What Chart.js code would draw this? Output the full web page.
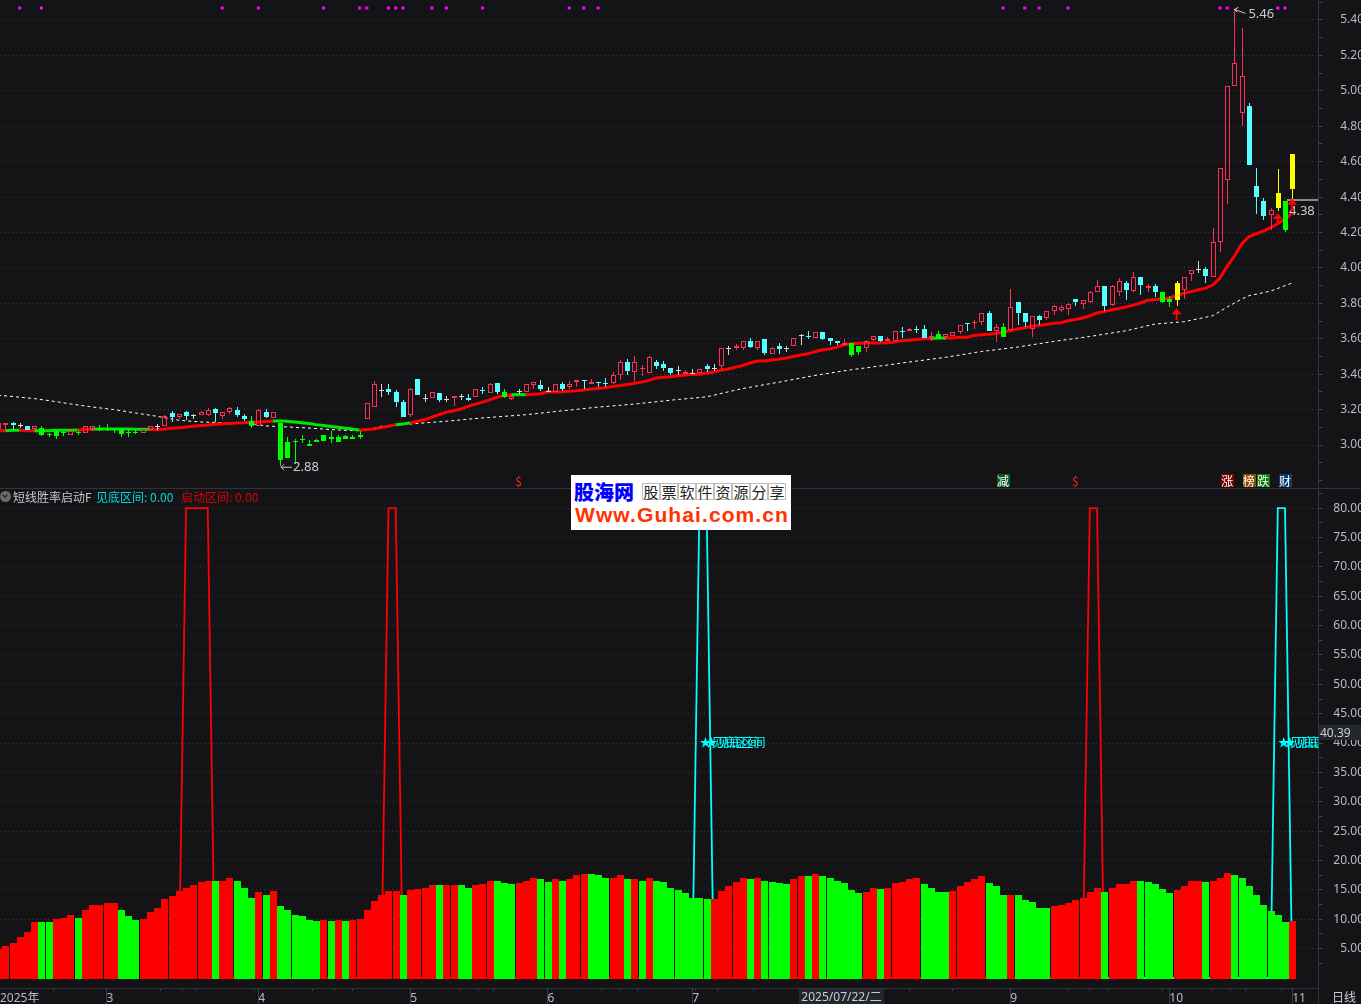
<!DOCTYPE html>
<html>
<head>
<meta charset="utf-8">
<script src="https://cdn.jsdelivr.net/npm/chart.js@4"></script>
<style>
  html, body { margin: 0; padding: 0; background: #141417; overflow: hidden; }
  body { width: 1361px; height: 1004px; position: relative; overflow: hidden; font-family: "Noto Sans CJK SC", "Noto Sans", sans-serif; }
  canvas { position: absolute; left: 0; }
  #priceChart { top: 0; }
  #rateChart { top: 489px; }
  .abs { position: absolute; white-space: nowrap; }
  .cell { position: absolute; top: 483px; width: 18px; height: 17px; line-height: 16px; box-sizing: border-box; border: 1px solid #bdbdbd; color: #222; font-size: 15px; text-align: center; }
</style>
</head>
<body>
<canvas id="priceChart" width="1364" height="488"></canvas>
<canvas id="rateChart" width="1364" height="515"></canvas>

<div class="abs" style="left:0;top:488px;width:1361px;height:1px;background:#2f333d"></div>
<div class="abs" style="left:1318px;top:988px;width:1px;height:16px;background:#2f333d"></div>

<div class="abs" style="left:0;top:491px;width:11px;height:11px;border-radius:50%;background:#6a6a6a"></div>
<div class="abs" style="left:3px;top:493px;width:3px;height:3px;border-right:1px solid #1a1a1a;border-bottom:1px solid #1a1a1a;transform:rotate(45deg)"></div>
<div class="abs" style="left:13px;top:489px;font-size:12px;line-height:16px;color:#c4c8cc">短线胜率启动F</div>
<div class="abs" style="left:96px;top:489px;font-size:12px;line-height:16px;color:#00dcdc">见底区间: 0.00</div>
<div class="abs" style="left:181px;top:489px;font-size:12px;line-height:16px;color:#e00000">启动区间: 0.00</div>

<div class="abs" style="left:1319px;top:725px;width:42px;height:15px;line-height:15px;background:#24272e;color:#c8ccd4;font-size:12px;padding-left:1px;box-sizing:border-box;font-family:'Noto Sans'">40.39</div>
<div class="abs" style="left:799px;top:989px;width:85px;height:15px;line-height:15px;background:#23262d;color:#c8ccd4;font-size:12px;text-align:center;font-family:'Noto Sans','Noto Sans CJK SC'">2025/07/22/二</div>
<div class="abs" style="left:1332px;top:990px;font-size:12px;line-height:14px;color:#c8ccd4">日线</div>

<div class="abs" style="left:571px;top:475px;width:220px;height:55px;background:#fff"></div>
<div class="abs" style="left:574px;top:479px;font-size:20px;line-height:26px;font-weight:900;color:#0000ff">股海网</div>
<div class="cell" style="left:642px">股</div>
<div class="cell" style="left:660px">票</div>
<div class="cell" style="left:678px">软</div>
<div class="cell" style="left:696px">件</div>
<div class="cell" style="left:714px">资</div>
<div class="cell" style="left:732px">源</div>
<div class="cell" style="left:750px">分</div>
<div class="cell" style="left:768px">享</div>
<div class="abs" style="left:575px;top:503px;font-family:'Liberation Sans';font-size:21px;line-height:24px;font-weight:700;color:#ff3300;letter-spacing:1.1px">Www.Guhai.com.cn</div>

<script>
// --- candles ---
const candleOpen = [
  3.09,3.115,3.124,3.112,3.108,3.093,3.096,3.061,3.078,3.074,
  3.055,3.072,3.068,3.087,3.096,3.09,3.089,3.091,3.076,3.076,
  3.068,3.087,3.11,3.108,3.179,3.157,3.187,3.168,3.172,3.172,
  3.202,3.162,3.185,3.2,3.162,3.136,3.106,3.189,3.153,3.123,
  3.017,3.02,3.034,3.008,3.03,3.057,3.043,3.047,3.049,3.047,
  3.057,3.147,3.213,3.311,3.317,3.302,3.241,3.172,3.37,3.266,
  3.264,3.296,3.262,3.265,3.275,3.267,3.272,3.312,3.293,3.35,
  3.299,3.262,3.306,3.302,3.338,3.338,3.306,3.302,3.346,3.325,
  3.353,3.367,3.342,3.357,3.348,3.351,3.393,3.468,3.414,3.429,
  3.404,3.47,3.459,3.434,3.423,3.402,3.404,3.404,3.448,3.433,
  3.444,3.549,3.545,3.545,3.587,3.545,3.6,3.513,3.559,3.547,
  3.557,3.619,3.615,3.602,3.638,3.606,3.587,3.564,3.576,3.56,
  3.545,3.594,3.615,3.585,3.585,3.643,3.643,3.655,3.656,3.598,
  3.628,3.61,3.613,3.64,3.689,3.687,3.692,3.747,3.643,3.666,
  3.651,3.809,3.747,3.655,3.73,3.715,3.754,3.764,3.768,3.824,
  3.794,3.805,3.864,3.899,3.792,3.862,3.915,3.869,3.948,3.884,
  3.899,3.864,3.826,3.916,3.875,3.965,3.992,3.995,3.947,4.148,
  4.498,5.027,4.875,4.912,4.46,4.379,4.3,4.421,4.379,4.641
];
const candleClose = [
  3.125,3.125,3.113,3.107,3.087,3.108,3.055,3.057,3.053,3.07,
  3.081,3.068,3.106,3.108,3.083,3.086,3.085,3.064,3.072,3.072,
  3.091,3.108,3.106,3.164,3.16,3.176,3.166,3.164,3.187,3.2,
  3.181,3.187,3.209,3.168,3.147,3.106,3.198,3.16,3.187,2.914,
  2.925,3.016,3.03,2.993,3.015,3.023,3.034,3.015,3.032,3.032,
  3.043,3.238,3.343,3.307,3.3,3.241,3.158,3.317,3.281,3.262,
  3.302,3.253,3.258,3.276,3.271,3.255,3.316,3.308,3.346,3.3,
  3.272,3.278,3.302,3.344,3.355,3.318,3.302,3.344,3.318,3.344,
  3.367,3.359,3.355,3.35,3.344,3.395,3.468,3.419,3.468,3.434,
  3.496,3.447,3.434,3.406,3.419,3.415,3.402,3.427,3.429,3.429,
  3.547,3.545,3.559,3.587,3.551,3.587,3.519,3.547,3.542,3.543,
  3.604,3.615,3.611,3.638,3.6,3.589,3.577,3.576,3.51,3.523,
  3.585,3.613,3.587,3.598,3.643,3.639,3.656,3.651,3.604,3.613,
  3.598,3.626,3.638,3.677,3.683,3.696,3.745,3.645,3.666,3.611,
  3.779,3.747,3.696,3.728,3.707,3.756,3.785,3.779,3.794,3.809,
  3.817,3.864,3.896,3.786,3.898,3.924,3.877,3.948,3.901,3.899,
  3.866,3.805,3.805,3.817,3.95,3.988,3.988,3.952,4.148,4.566,
  5.029,5.159,5.085,4.581,4.4,4.293,4.327,4.338,4.214,4.443
];
const candleHigh = [
  3.125,3.125,3.13,3.125,3.11,3.108,3.108,3.068,3.083,3.078,
  3.087,3.085,3.106,3.11,3.115,3.119,3.089,3.094,3.091,3.087,
  3.091,3.11,3.119,3.17,3.19,3.176,3.19,3.176,3.194,3.208,
  3.211,3.187,3.215,3.215,3.177,3.166,3.204,3.202,3.187,3.123,
  3.045,3.032,3.055,3.03,3.034,3.059,3.081,3.057,3.057,3.057,
  3.079,3.24,3.364,3.347,3.347,3.311,3.256,3.324,3.37,3.289,
  3.302,3.296,3.277,3.276,3.289,3.289,3.316,3.327,3.35,3.35,
  3.316,3.287,3.316,3.344,3.355,3.367,3.327,3.344,3.357,3.361,
  3.367,3.367,3.372,3.357,3.378,3.412,3.479,3.485,3.504,3.453,
  3.504,3.478,3.472,3.434,3.444,3.421,3.429,3.427,3.459,3.457,
  3.547,3.56,3.572,3.587,3.604,3.59,3.6,3.553,3.576,3.56,
  3.604,3.628,3.645,3.638,3.638,3.606,3.587,3.598,3.576,3.56,
  3.595,3.613,3.615,3.609,3.643,3.664,3.659,3.67,3.679,3.638,
  3.645,3.626,3.638,3.677,3.689,3.704,3.745,3.758,3.683,3.689,
  3.882,3.809,3.747,3.728,3.736,3.756,3.79,3.788,3.8,3.824,
  3.817,3.868,3.933,3.899,3.902,3.943,3.928,3.975,3.948,3.909,
  3.911,3.864,3.839,3.928,3.95,3.988,4.04,4.007,4.223,4.566,
  5.03,5.46,5.353,4.929,4.566,4.396,4.34,4.56,4.379,4.641
];
const candleLow = [
  3.087,3.087,3.087,3.096,3.087,3.085,3.049,3.046,3.036,3.049,
  3.055,3.059,3.068,3.078,3.081,3.081,3.07,3.046,3.046,3.062,
  3.068,3.078,3.087,3.108,3.128,3.147,3.143,3.147,3.172,3.166,
  3.128,3.147,3.177,3.158,3.138,3.098,3.106,3.153,3.153,2.88,
  2.925,2.895,3.012,2.993,3.015,3.023,3.012,3.015,3.032,3.032,
  3.034,3.147,3.213,3.27,3.283,3.213,3.157,3.157,3.28,3.241,
  3.264,3.243,3.241,3.218,3.255,3.25,3.272,3.289,3.293,3.289,
  3.268,3.252,3.289,3.302,3.319,3.306,3.302,3.302,3.306,3.318,
  3.329,3.318,3.342,3.327,3.327,3.346,3.368,3.397,3.353,3.387,
  3.404,3.43,3.419,3.397,3.397,3.402,3.402,3.404,3.415,3.419,
  3.429,3.51,3.538,3.538,3.545,3.538,3.511,3.513,3.515,3.528,
  3.557,3.566,3.6,3.602,3.591,3.566,3.562,3.564,3.498,3.51,
  3.527,3.585,3.58,3.585,3.585,3.604,3.643,3.632,3.604,3.59,
  3.598,3.594,3.613,3.628,3.641,3.656,3.679,3.645,3.579,3.611,
  3.651,3.679,3.666,3.608,3.679,3.707,3.736,3.749,3.736,3.783,
  3.769,3.802,3.864,3.758,3.786,3.839,3.82,3.866,3.849,3.866,
  3.835,3.8,3.781,3.785,3.826,3.928,3.971,3.914,3.947,4.09,
  4.36,5.027,4.799,4.581,4.302,4.27,4.214,4.319,4.204,4.39
];
const candleKinds = (
  "rrcwcrgggg" + "rgrrgggggg" + "rrwrcrcwrr" + "crrccgrcrg" + "gggggggggg" + "grrwcccrcw" +
  "rcwrwcrcrc" + "grwrrcwrcr" + "rcrccrrcrr" + "rcccwrwrcw" + "rwrrcrcrcw" + "rwcrcccrgg" +
  "rrcrrcrccr" + "grrrcrrcrg" + "rccrcrrrrc" + "rrrcrrcrcr" + "cggyrrwcrr" + "rrrcccrygy"
).split("");

// --- thick trend line (red/green) ---
const trendVals = [
  3.081,3.081,3.083,3.083,3.08,3.08,3.081,3.081,3.083,3.083,
  3.083,3.085,3.087,3.089,3.091,3.091,3.091,3.09,3.09,3.089,
  3.089,3.089,3.087,3.09,3.094,3.098,3.102,3.106,3.11,3.113,
  3.117,3.12,3.122,3.124,3.125,3.128,3.13,3.133,3.136,3.136,
  3.134,3.13,3.126,3.121,3.115,3.11,3.105,3.1,3.095,3.09,
  3.083,3.087,3.091,3.098,3.106,3.115,3.119,3.125,3.134,3.143,
  3.157,3.172,3.185,3.193,3.203,3.218,3.231,3.242,3.255,3.27,
  3.28,3.284,3.285,3.284,3.287,3.289,3.299,3.299,3.301,3.304,
  3.306,3.31,3.316,3.319,3.323,3.331,3.336,3.342,3.348,3.355,
  3.365,3.378,3.383,3.385,3.391,3.395,3.398,3.4,3.406,3.412,
  3.423,3.429,3.44,3.449,3.463,3.474,3.474,3.48,3.485,3.491,
  3.5,3.508,3.515,3.527,3.538,3.542,3.553,3.566,3.572,3.574,
  3.576,3.576,3.576,3.577,3.581,3.589,3.592,3.596,3.6,3.602,
  3.604,3.604,3.604,3.608,3.609,3.619,3.623,3.626,3.63,3.638,
  3.645,3.655,3.662,3.67,3.675,3.681,3.687,3.69,3.702,3.709,
  3.717,3.73,3.745,3.753,3.764,3.771,3.779,3.79,3.802,3.817,
  3.822,3.824,3.83,3.843,3.856,3.866,3.877,3.886,3.903,3.943,
  4.009,4.067,4.136,4.176,4.193,4.208,4.227,4.251,4.274,4.311
];
const trendKinds = (
  "rrggrrgggg" + "ggrrgggggg" + "ggrrrrrrrr" + "rrrrrrrrrg" + "gggggggggg" + "grrrrrggrr" +
  "rrrrrrrrrr" + "rrggrrrrrr" + "rrrrrrrrrr" + "rrrrrrrrrr" + "rrrrrrrrrr" + "rrrrrrrrrr" +
  "rrrrrrrrrr" + "ggrrrrrrrr" + "rrrrrrrrrr" + "rrrrrrrrrr" + "rrrrrrrrrr" + "rrrrrrrrrr"
).split("");

// --- dotted white line, read at these bars ---
const dashIdx = [0,3,5,8,10,13,16,19,22,25,28,32,35,37,40,43,46,49,51,53,56,59,62,65,69,73,78,83,88,93,98,103,108,113,118,124,125,131,136,141,146,151,156,160,164,168,170,172,173,176,179];
const dashVals = [3.281,3.27,3.262,3.245,3.232,3.215,3.2,3.181,3.162,3.14,3.13,3.125,3.121,3.108,3.102,3.096,3.087,3.081,3.087,3.106,3.115,3.125,3.134,3.146,3.159,3.171,3.193,3.214,3.231,3.253,3.272,3.319,3.355,3.393,3.425,3.457,3.463,3.495,3.528,3.553,3.585,3.613,3.645,3.683,3.696,3.73,3.779,3.824,3.843,3.869,3.915];

// --- magenta marks along the top ---
const markIdx = [3,6,31,36,45,50,51,54,55,56,60,62,67,79,81,83,139,142,144,148,169,170,177,178];
const markPrice = 5.468;

// --- red up arrows ---
const arrowIdx = [163,177,179];
const arrowPrice = [3.772,4.31,4.39];

// --- signal tags above the lower panel ---
const tagIdx = [72,139,149,170,173,175,178];
const tagText = ["$","减","$","涨","榜","跌","财"];
const tagBg = ["","#0b5a20","","#800000","#8a4b00","#0a7a0a","#0a3c70"];

// --- lower panel bars ---
const rateVals = [
  5,5.4,5.9,6.9,7.8,9.6,9.5,9.5,10,10.15,
  10.7,10.3,11.5,12.5,12.5,12.7,12.7,11.5,10.5,9.8,
  10,11.2,12,13.4,13.9,14.75,15.3,15.8,16.3,16.6,
  16.45,16.45,17,16.45,15.4,13.7,14.6,14.2,14.75,12.2,
  11.5,10.8,10.5,9.8,9.65,9.8,9.65,9.8,9.65,9.8,
  10,11.5,13.05,14.1,14.75,14.75,14.1,14.9,15.1,15.3,
  15.8,15.8,15.8,15.8,15.8,15.4,15.8,15.95,16.45,16.45,
  16.1,15.95,16.1,16.6,17.1,16.8,16.3,16.8,16.45,16.8,
  17.5,17.65,17.65,17.5,17,17.1,17.5,16.8,16.8,16.45,
  17,16.6,16.3,15.4,14.9,14.4,13.7,13.55,13.4,13.4,
  14.75,15.6,16.3,17,16.8,17.1,16.45,16.3,16.1,15.95,
  16.8,17.3,17.3,17.65,17.3,17,16.45,16.1,14.9,14.4,
  14.6,15.3,15.1,15.3,16.1,16.3,16.8,17,15.95,15.4,
  14.6,14.6,14.75,15.6,16.3,16.8,17.3,16.1,15.6,14.2,
  14.2,14.05,13.2,12.9,11.85,11.85,12.2,12.35,12.7,13.2,
  13.55,14.6,15.3,14.6,15.3,15.95,15.95,16.45,16.45,16.3,
  15.95,15.1,14.4,14.9,15.6,16.45,16.6,16.3,16.45,17.1,
  17.8,17.5,17.1,15.6,14.05,12.5,11.35,10.65,9.5,9.65
];
const rateKinds = (
  "rrrrrrggrr" + "rgrrrrrggg" + "rrrrrrrrrr" + "grrgggrgrg" + "gggggrgrgr" + "rrrrrrgrrr" +
  "rgrrggrrrg" + "ggrrrggrgr" + "rrgggrrgrg" + "rggggggggr" + "rrrrgrgggg" + "rrgrgggggg" +
  "rrgrrrrrgg" + "ggrrrrrggg" + "rgggggrrrr" + "rrrgrrrrgg" + "gggrrrrgrr" + "rggggggggr"
).split("");

// --- lower panel outline lines ---
const redLineIdx = [25,26,29,30,53,54,55,56,150,151,152,153];
const redLineVals = [0,80,80,0,0,80,80,0,0,80,80,0];
const cyanLineIdx = [96,97,98,99,176,177,178,179];
const cyanLineVals = [0,80,80,0,0,80,80,0];

// --- axes ---
const priceTicks = [2.8,2.9,3.0,3.1,3.2,3.3,3.4,3.5,3.6,3.7,3.8,3.9,4.0,4.1,4.2,4.3,4.4,4.5,4.6,4.7,4.8,4.9,5.0,5.1,5.2,5.3,5.4,5.5];
const priceLabelled = [3.0,3.2,3.4,3.6,3.8,4.0,4.2,4.4,4.6,4.8,5.0,5.2,5.4];
const rateTicks = [2.5,5,7.5,10,12.5,15,17.5,20,22.5,25,27.5,30,32.5,35,37.5,40,42.5,45,47.5,50,52.5,55,57.5,60,62.5,65,67.5,70,72.5,75,77.5,80,82.5];
const monthTicks = [0.267,15,36,57,76,96,140,162,179];
const monthLabels = ["2025年","3","4","5","6","7","9","10","11"];
const minorTicks = [20,25,30,41,46,52,62,66,71,81,86,91,102,107,123,129,135,145,151,156,166,170,175];

const barIdx = candleOpen.map((_, i) => i);
const xMin = 0.267, xMax = 182.63;

const kindColor = { r: "#ff2d55", c: "#55ffff", w: "#d8d8d8", g: "#00ff00", y: "#ffff00" };
const tickFont = { family: "'Noto Sans', 'Noto Sans CJK SC'", size: 12 };
const tickColor = "#b4bcc8";
const lineColor = "#2f333d";

const fitYAxis = s => { s.width = 45.5; s.paddingTop = 0; s.paddingBottom = 0; };

// snap bars to whole pixels, the reference has no blurred edges
const snapBars = {
  id: "snapBars",
  beforeDatasetsDraw(chart) {
    chart.data.datasets.forEach((ds, n) => {
      if (ds.type === "line" || ds.type === "scatter") return;
      chart.getDatasetMeta(n).data.forEach(el => {
        el.x = Math.ceil(el.x - 3.5) + 3.5;
        el.y = Math.round(el.y);
        el.base = Math.round(el.base);
        if (ds.minBody && el.base - el.y < 1) el.base = el.y + 1;
      });
    });
  }
};

// texts, arrows and tags in the price panel
const priceNotes = {
  id: "priceNotes",
  afterDatasetsDraw(chart) {
    const { ctx, scales: { x, y } } = chart;
    ctx.save();
    ctx.textBaseline = "middle";
    ctx.font = "13px 'Noto Sans'";

    // lowest price
    ctx.fillStyle = "#c8ccd0";
    ctx.strokeStyle = "#c8ccd0";
    const lowX = x.getPixelForValue(39), lowY = y.getPixelForValue(2.88) + 1;
    ctx.beginPath();
    ctx.moveTo(lowX + 1, lowY); ctx.lineTo(lowX + 12, lowY);
    ctx.moveTo(lowX + 4, lowY - 3); ctx.lineTo(lowX + 1, lowY); ctx.lineTo(lowX + 4, lowY + 3);
    ctx.stroke();
    ctx.fillText("2.88", lowX + 13, lowY);

    // highest price
    const topX = x.getPixelForValue(171), topY = y.getPixelForValue(5.46);
    ctx.beginPath();
    ctx.moveTo(topX, topY); ctx.lineTo(topX + 11, topY + 4);
    ctx.moveTo(topX + 4, topY - 2); ctx.lineTo(topX, topY); ctx.lineTo(topX + 3, topY + 3);
    ctx.stroke();
    ctx.fillText("5.46", topX + 14, topY + 5);

    // last price
    const lastY = Math.round(y.getPixelForValue(4.383));
    ctx.fillStyle = "#8a8a8a";
    ctx.fillRect(1287, lastY - 1, 31, 2);
    ctx.fillStyle = "#c8ccd0";
    ctx.fillText("4.38", 1289, lastY + 11);

    // up arrows
    ctx.fillStyle = "#ff0000";
    arrowIdx.forEach((idx, n) => {
      const ax = x.getPixelForValue(idx), ay = y.getPixelForValue(arrowPrice[n]);
      ctx.beginPath();
      ctx.moveTo(ax, ay); ctx.lineTo(ax + 5, ay + 6); ctx.lineTo(ax - 5, ay + 6);
      ctx.closePath();
      ctx.fill();
      ctx.fillRect(ax - 1, ay + 5, 2, 7);
    });

    // tags
    ctx.font = "12px 'Noto Sans CJK SC'";
    ctx.textAlign = "center";
    tagIdx.forEach((idx, n) => {
      const tx = x.getPixelForValue(idx);
      if (tagBg[n]) {
        ctx.fillStyle = tagBg[n];
        ctx.fillRect(Math.round(tx) - 6, 474, 13, 13);
        ctx.fillStyle = "#ffffff";
      } else {
        ctx.fillStyle = "#ff2020";
      }
      ctx.fillText(tagText[n], tx, 481);
    });
    ctx.restore();
  }
};

new Chart(document.getElementById("priceChart"), {
  type: "bar",
  data: {
    datasets: [
      {
        type: "scatter", order: 0, showLine: false,
        data: markIdx.map(i => ({ x: i, y: markPrice })),
        pointStyle: "rect", pointRadius: 2.2, pointBackgroundColor: "#ff00ff", pointBorderWidth: 0
      },
      {
        order: 1, grouped: false, minBody: true, barThickness: 5, inflateAmount: 0, borderSkipped: false,
        data: barIdx.map(i => ({ x: i, y: [Math.min(candleOpen[i], candleClose[i]), Math.max(candleOpen[i], candleClose[i])] })),
        backgroundColor: c => candleKinds[c.dataIndex] === "r" ? "rgba(0,0,0,0)" : kindColor[candleKinds[c.dataIndex]],
        borderColor: c => kindColor[candleKinds[c.dataIndex]],
        borderWidth: c => candleKinds[c.dataIndex] === "r" ? 1 : 0
      },
      {
        order: 2, grouped: false, barThickness: 1, inflateAmount: 0, borderWidth: 0,
        data: barIdx.map(i => ({ x: i, y: [Math.max(candleOpen[i], candleClose[i]), candleHigh[i]] })),
        backgroundColor: c => kindColor[candleKinds[c.dataIndex]]
      },
      {
        order: 2, grouped: false, barThickness: 1, inflateAmount: 0, borderWidth: 0,
        data: barIdx.map(i => ({ x: i, y: [candleLow[i], Math.min(candleOpen[i], candleClose[i])] })),
        backgroundColor: c => kindColor[candleKinds[c.dataIndex]]
      },
      {
        type: "line", order: 3,
        data: barIdx.map(i => ({ x: i, y: trendVals[i] })),
        borderWidth: 3, pointRadius: 0, tension: 0, borderColor: "#ff0000",
        segment: { borderColor: c => trendKinds[c.p1DataIndex] === "g" ? "#00e800" : "#ff0000" }
      },
      {
        type: "line", order: 4,
        data: dashIdx.map((idx, n) => ({ x: idx, y: dashVals[n] })),
        borderWidth: 1, pointRadius: 0, borderColor: "#ffffff", borderDash: [3, 3]
      }
    ]
  },
  options: {
    responsive: false, animation: false, events: [],
    layout: { padding: 0, autoPadding: false },
    plugins: { legend: { display: false }, tooltip: { enabled: false } },
    scales: {
      x: { type: "linear", display: false, offset: false, min: xMin, max: xMax },
      y: {
        type: "linear", position: "right", min: 2.7572, max: 5.5129,
        afterFit: fitYAxis,
        afterBuildTicks: s => { s.ticks = priceTicks.map(v => ({ value: v })); },
        border: { color: lineColor, dash: [1, 3] },
        grid: {
          color: c => priceLabelled.includes(c.tick.value) ? "#36393f" : "rgba(0,0,0,0)",
          tickColor: "#3f4450", tickLength: 4
        },
        ticks: {
          color: tickColor, font: tickFont, padding: 0, autoSkip: false, crossAlign: "far",
          callback: v => priceLabelled.includes(v) ? v.toFixed(2) : ""
        }
      }
    }
  },
  plugins: [snapBars, priceNotes]
});

// texts and month ticks in the lower panel
const rateNotes = {
  id: "rateNotes",
  afterDatasetsDraw(chart) {
    const { ctx, chartArea, scales: { x, y } } = chart;
    ctx.save();
    ctx.beginPath();
    ctx.rect(0, 0, chartArea.right, chart.height);
    ctx.clip();
    ctx.font = "12px 'Noto Sans CJK SC'";
    ctx.textBaseline = "middle";
    ctx.fillStyle = "#00ffff";
    [97, 177].forEach(idx => {
      const tx = x.getPixelForValue(idx), ty = y.getPixelForValue(40) - 1;
      ctx.fillText("★见底区间", tx, ty);
      ctx.fillText("★见底区间", tx + 6, ty);
    });
    ctx.restore();
  },
  afterDraw(chart) {
    const { ctx, chartArea, scales: { x } } = chart;
    ctx.save();
    ctx.fillStyle = "#3a3e49";
    monthTicks.slice(1).forEach(idx => {
      ctx.fillRect(Math.floor(x.getPixelForValue(idx)), chartArea.bottom, 1, chart.height - chartArea.bottom);
    });
    ctx.restore();
  }
};

new Chart(document.getElementById("rateChart"), {
  type: "bar",
  data: {
    datasets: [
      {
        order: 1, barThickness: 7, inflateAmount: 0, borderWidth: 0, base: -0.25,
        data: barIdx.map(i => ({ x: i, y: rateVals[i] })),
        backgroundColor: c => rateKinds[c.dataIndex] === "g" ? "#00ff00" : "#ff0000"
      },
      {
        type: "line", order: 2,
        data: redLineIdx.map((idx, n) => ({ x: idx, y: redLineVals[n] })),
        borderColor: "#ff0000", borderWidth: 1.8, pointRadius: 0
      },
      {
        type: "line", order: 2,
        data: cyanLineIdx.map((idx, n) => ({ x: idx, y: cyanLineVals[n] })),
        borderColor: "#00ffff", borderWidth: 1.8, pointRadius: 0
      }
    ]
  },
  options: {
    responsive: false, animation: false, events: [],
    layout: { padding: 0, autoPadding: false },
    plugins: { legend: { display: false }, tooltip: { enabled: false } },
    scales: {
      x: {
        type: "linear", offset: false, min: xMin, max: xMax,
        afterFit: s => { s.height = 16; s.paddingLeft = 0; s.paddingRight = 0; },
        afterBuildTicks: s => { s.ticks = monthTicks.concat(minorTicks).map(v => ({ value: v })); },
        border: { color: lineColor },
        grid: { drawOnChartArea: false, tickColor: "#3a3e49", tickLength: 3 },
        ticks: {
          color: tickColor, font: tickFont, padding: 0, autoSkip: false, maxRotation: 0, minRotation: 0, align: "start",
          callback: v => monthTicks.indexOf(v) >= 0 ? monthLabels[monthTicks.indexOf(v)] : ""
        }
      },
      y: {
        type: "linear", position: "right", min: -1.703, max: 83.26,
        afterFit: fitYAxis,
        afterBuildTicks: s => { s.ticks = rateTicks.map(v => ({ value: v })); },
        border: { color: lineColor, dash: [1, 3] },
        grid: {
          color: c => c.tick.value % 5 === 0 ? "#36393f" : "rgba(0,0,0,0)",
          tickColor: "#3f4450", tickLength: 4
        },
        ticks: {
          color: tickColor, font: tickFont, padding: 0, autoSkip: false, crossAlign: "far",
          callback: v => v % 5 === 0 ? v.toFixed(2) : ""
        }
      }
    }
  },
  plugins: [snapBars, rateNotes]
});
</script>
</body>
</html>
